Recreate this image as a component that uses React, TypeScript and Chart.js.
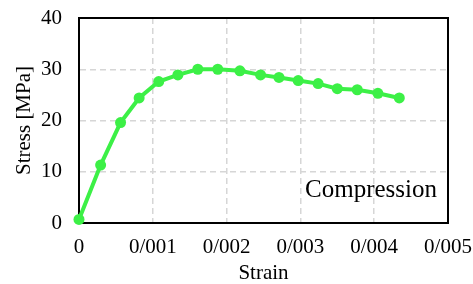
import { useEffect, useRef } from "react";
import { Chart, registerables } from "chart.js";

Chart.register(...registerables);

const strain = [0, 0.000293, 0.000563, 0.000815, 0.00108, 0.00134, 0.00161, 0.00188, 0.00218, 0.00246, 0.00271, 0.00297, 0.00324, 0.0035, 0.00377, 0.00405, 0.00434];
const stress = [0.7, 11.3, 19.6, 24.4, 27.6, 28.9, 30.0, 30.0, 29.7, 28.9, 28.4, 27.8, 27.2, 26.2, 26.0, 25.3, 24.4];
const xTickValues = [0, 0.001, 0.002, 0.003, 0.004, 0.005];
const yTickValues = [0, 10, 20, 30, 40];
const xTitle = "Strain";
const yTitle = "Stress [MPa]";
const annotation = "Compression";

const GREEN = "#3cf046";
const FONT = "'Liberation Serif', 'Times New Roman', serif";

export default function App() {
  const ref = useRef<HTMLCanvasElement | null>(null);
  useEffect(() => {
    if (!ref.current) return;
    const framePlugin = {
      id: "frame",
      beforeDatasetsDraw(chart: any) {
        const { ctx, chartArea } = chart;
        ctx.save();
        ctx.strokeStyle = "#000";
        ctx.lineWidth = 2;
        ctx.strokeRect(chartArea.left, chartArea.top, chartArea.right - chartArea.left, chartArea.bottom - chartArea.top);
        ctx.restore();
      },
      afterDraw(chart: any) {
        const { ctx } = chart;
        ctx.save();
        ctx.font = `25px ${FONT}`;
        ctx.fillStyle = "#000";
        ctx.textAlign = "right";
        ctx.textBaseline = "alphabetic";
        ctx.fillText(annotation, 437, 197);
        ctx.restore();
      },
    };
    const chart = new Chart(ref.current, {
      type: "line",
      data: {
        datasets: [
          {
            data: strain.map((x, i) => ({ x, y: stress[i] })),
            borderColor: GREEN,
            backgroundColor: GREEN,
            borderWidth: 4,
            pointRadius: 5.5,
            pointBackgroundColor: GREEN,
            pointBorderColor: GREEN,
            pointBorderWidth: 0,
            tension: 0,
            clip: false,
          },
        ],
      },
      options: {
        animation: false,
        responsive: false,
        maintainAspectRatio: false,
        layout: { padding: { top: 18, right: 25, left: 0, bottom: 0 } },
        plugins: { legend: { display: false }, tooltip: { enabled: false } },
        scales: {
          x: {
            type: "linear",
            min: 0,
            max: 0.005,
            afterFit: (s: any) => { s.height = 61; s.paddingLeft = 0; s.paddingRight = 0; },
            afterBuildTicks: (s: any) => { s.ticks = xTickValues.map((v) => ({ value: v })); },
            ticks: {
              padding: 12,
              color: "#000",
              font: { family: FONT, size: 21 },
              maxRotation: 0,
              callback: (v: any) => (Number(v) === 0 ? "0" : Number(v).toFixed(3).replace(".", "/")),
            },
            grid: { color: "#d6d6d6", lineWidth: 1.5, drawTicks: false },
            border: { display: true, color: "#000", width: 2, dash: [6, 4] },
            title: { display: true, text: xTitle, color: "#000", font: { family: FONT, size: 21, lineHeight: 1 }, padding: { top: 0, bottom: 0 } },
          },
          y: {
            type: "linear",
            min: 0,
            max: 40,
            afterFit: (s: any) => { s.width = 79; s.paddingTop = 0; s.paddingBottom = 0; },
            afterBuildTicks: (s: any) => { s.ticks = yTickValues.map((v) => ({ value: v })); },
            ticks: {
              padding: 17,
              color: "#000",
              font: { family: FONT, size: 21 },
            },
            grid: { color: "#d6d6d6", lineWidth: 1.5, drawTicks: false },
            border: { display: true, color: "#000", width: 2, dash: [6, 4] },
            title: { display: true, text: yTitle, color: "#000", font: { family: FONT, size: 21 }, padding: { top: 12, bottom: 0 } },
          },
        },
      },
      plugins: [framePlugin],
    });
    return () => chart.destroy();
  }, []);
  return (
    <div style={{ position: "absolute", left: 0, top: 0, width: 473, height: 284, background: "#fff" }}>
      <canvas ref={ref} width={473} height={284} style={{ width: 473, height: 284 }} />
    </div>
  );
}
